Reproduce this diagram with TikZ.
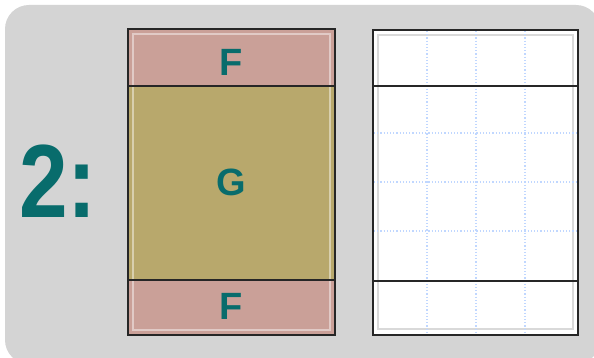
\documentclass[tikz,border=0pt]{standalone}
\usepackage{fontspec}
\setmainfont{Liberation Sans}
\begin{document}
\begin{tikzpicture}[x=1pt,y=-1pt,
  frame/.style={draw=black!85,line width=2pt},
  sep/.style={draw=black!85,line width=1.8pt},
  gridl/.style={draw=gridblue,line width=1.2pt,dotted},
  label/.style={font=\bfseries\fontsize{38}{38}\selectfont,text=teal2},
]
\definecolor{teal2}{RGB}{8,108,108}
\definecolor{bggray}{RGB}{212,212,212}
\definecolor{pinkf}{RGB}{202,160,152}
\definecolor{oliveg}{RGB}{184,168,108}
\definecolor{gridblue}{RGB}{192,215,255}
\useasboundingbox (0,0) rectangle (594,358);
\fill[white] (0,0) rectangle (594,358);
\fill[bggray,rounded corners=24pt] (5,5) rectangle (600,364);
% left box
\fill[pinkf] (128,29) rectangle (335,86);
\fill[oliveg] (128,86) rectangle (335,280);
\fill[pinkf] (128,280) rectangle (335,335);
\draw[white,opacity=0.45,line width=1.2pt] (133,34) rectangle (330,330);
\draw[sep] (128,86) -- (335,86);
\draw[sep] (128,280) -- (335,280);
\draw[frame] (128,29) rectangle (335,335);
\node[label] (f1) at (231.5,62) {F};
\node[label] (g) at (231.5,182) {G};
\node[label] (f2) at (231.5,306) {F};
% right box
\fill[white] (373,30) rectangle (578,335);
\draw[black!15,line width=1.2pt] (378,35) rectangle (573,329);
\foreach \x in {427,476,525} \draw[gridl] (\x,31) -- (\x,334);
\foreach \y in {133,182,231} \draw[gridl] (374,\y) -- (577,\y);
\draw[sep] (373,86) -- (578,86);
\draw[sep] (373,281) -- (578,281);
\draw[frame] (373,30) rectangle (578,335);
% big label
\node[font=\bfseries\fontsize{104}{104}\selectfont,text=teal2,inner sep=0pt,anchor=base west,xscale=0.84] (num) at (19,218) {2:};
\end{tikzpicture}
\end{document}
